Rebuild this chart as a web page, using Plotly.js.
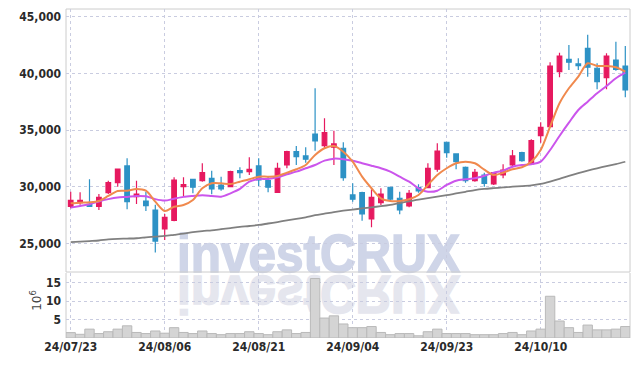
<!DOCTYPE html>
<html>
<head>
<meta charset="utf-8">
<script src="https://cdn.plot.ly/plotly-3.0.1.min.js"></script>
<style>
  html, body { margin: 0; padding: 0; background: #ffffff; }
  #wrap { position: relative; width: 639px; height: 366px; overflow: hidden; }
  #wm { position: absolute; left: 0; top: 0; z-index: 0; }
  #chart { position: absolute; left: 0; top: 0; width: 639px; height: 366px; z-index: 1; }
</style>
</head>
<body>
<div id="wrap">
  <svg id="wm" width="639" height="366" xmlns="http://www.w3.org/2000/svg">
    <text x="177" y="272" font-family="Liberation Sans, Arial, sans-serif" font-weight="bold" font-size="54" textLength="283" lengthAdjust="spacingAndGlyphs" fill="#cfd5e8" stroke="#cfd5e8" stroke-width="1.6">investCRUX</text>
    <g transform="translate(0,548) scale(1,-1)">
      <text x="177" y="272" font-family="Liberation Sans, Arial, sans-serif" font-weight="bold" font-size="54" textLength="283" lengthAdjust="spacingAndGlyphs" fill="#e5e6ee" stroke="#e5e6ee" stroke-width="1.6">investCRUX</text>
    </g>
  </svg>
  <div id="chart"></div>
</div>
<script>
// ---- data ----
const dates = ['24/07/23','24/07/24','24/07/25','24/07/26','24/07/29','24/07/30','24/07/31','24/08/01','24/08/02','24/08/05',
               '24/08/06','24/08/07','24/08/08','24/08/09','24/08/12','24/08/13','24/08/14','24/08/16','24/08/19','24/08/20',
               '24/08/21','24/08/22','24/08/23','24/08/26','24/08/27','24/08/28','24/08/29','24/08/30','24/09/02','24/09/03',
               '24/09/04','24/09/05','24/09/06','24/09/09','24/09/10','24/09/11','24/09/12','24/09/13','24/09/19','24/09/20',
               '24/09/23','24/09/24','24/09/25','24/09/26','24/09/27','24/09/30','24/10/02','24/10/04','24/10/07','24/10/08',
               '24/10/10','24/10/11','24/10/14','24/10/15','24/10/16','24/10/17','24/10/18','24/10/21','24/10/22','24/10/23'];

const openP  = [28250,28600,28450,28250,29470,30350,31830,29120,28730,27940,
                26270,27030,30000,30650,30530,30740,30150,30000,31410,31320,
                31830,30530,29500,31920,33090,32710,34650,33620,33480,33390,
                29270,29470,27150,28590,29950,28980,28300,29910,29910,31540,
                33920,32890,31710,30530,31030,30240,31030,31920,33000,32000,
                34500,35300,40150,41240,40830,42210,40450,39620,41180,40650];
const highP  = [29550,29500,30650,29350,30530,31600,32500,30530,29560,28400,
                27590,30830,30830,30700,32060,31410,30880,31410,31710,32600,
                32500,30880,32120,33180,33590,33470,38680,36040,34940,33920,
                30300,29560,29770,29860,29990,29560,29710,30210,32060,33830,
                33950,32950,31770,31560,31240,31300,31980,33240,33080,34180,
                35680,40980,41830,42500,41330,43415,40890,41770,42800,42420];
const lowP   = [28100,28400,28200,27950,29360,30000,28000,28470,27850,24200,
                25300,26940,29180,29420,30440,29330,29650,29950,30740,31030,
                30060,29500,29480,31620,31920,32120,33180,33330,31920,30530,
                28680,27000,26420,28390,28820,27560,28180,29470,29860,31320,
                32560,31540,30350,30440,30000,30150,30740,31710,32210,31910,
                33880,35240,39660,40300,40300,39710,38600,38600,40240,37890];
const closeP = [28800,28800,28250,29050,30350,31550,28680,29350,28320,25200,
                27290,30590,30180,29950,31240,29800,29800,31320,31240,31530,
                30590,29950,31620,33090,32650,32420,34030,34770,33770,30800,
                28890,27590,29060,29350,28910,27940,29420,29620,31620,33150,
                33000,32210,30530,31270,30300,31240,31470,32710,32300,34060,
                35240,40650,41530,40980,40680,40540,39270,41530,40360,38535];

// moving-average lines
const ma5  = [28535,28588,28620,28738,29179,29620,29647,29797,29647,28676,
              27855,28235,28385,28826,29860,30300,30294,30238,30441,30653,
              30883,30883,30944,31236,31535,31915,32798,33389,33592,33089,
              32207,30883,29859,28976,28738,28738,28888,29267,30150,31033,
              31624,32065,32207,32065,31500,31033,31236,31536,31712,32207,
              33239,35296,37361,38685,39709,40891,40653,40653,40535,40150];
const ma10 = [28150,28300,28450,28700,28900,29050,29100,29180,29150,28900,
              28770,28940,29100,29180,29240,29180,29120,29414,29800,30450,
              30680,30680,30830,31094,31324,31624,31915,32295,32471,32430,
              32295,32065,31854,31624,31324,30883,30441,29859,29559,29647,
              30150,30530,30650,30740,30960,31236,31412,31765,31915,31977,
              32207,33239,34475,35649,36770,37502,38244,38888,39568,40060];
const maLong = [25100,25150,25200,25250,25350,25400,25420,25450,25530,25600,
                25650,25750,25850,25980,26080,26150,26250,26350,26450,26530,
                26620,26750,26880,27020,27150,27300,27480,27620,27760,27880,
                27980,28080,28180,28280,28400,28560,28700,28850,28980,29120,
                29250,29400,29550,29700,29800,29870,29930,30000,30050,30120,
                30250,30450,30680,30950,31200,31420,31620,31820,32000,32200];

// volume in millions of shares
const volume = [1.46,1.0,2.4,1.2,1.7,2.4,3.3,1.5,1.2,1.9,
                1.3,2.8,1.5,1.2,1.9,1.2,0.9,1.2,1.2,1.7,
                1.2,0.9,1.7,2.2,1.2,1.5,16.1,5.4,6.0,3.8,
                2.8,2.8,3.1,1.5,0.9,1.2,1.2,0.6,1.7,2.4,
                1.2,1.2,1.2,0.9,0.9,0.9,1.2,1.5,0.9,1.9,
                2.4,11.3,4.6,2.8,1.5,3.5,2.2,2.2,2.4,3.1];

const tickDates = ['24/07/23','24/08/06','24/08/21','24/09/04','24/09/23','24/10/10'];
const priceTicks = [25000,30000,35000,40000,45000];
const volTicks = [5,10,15];

// ---- styles ----
const RED = '#e6195f', BLUE = '#2d92c5';
const GRID = '#c9cce0';
const tickFont = {family: 'DejaVu Sans Condensed, DejaVu Sans, sans-serif', size: 12, color: '#2a2a2a', weight: 'bold'};

const traces = [
  {
    type: 'candlestick', x: dates, open: openP, high: highP, low: lowP, close: closeP,
    xaxis: 'x', yaxis: 'y',
    increasing: {line: {color: RED, width: 1.2}, fillcolor: RED},
    decreasing: {line: {color: BLUE, width: 1.2}, fillcolor: BLUE},
    whiskerwidth: 0, hoverinfo: 'skip', showlegend: false
  },
  {type: 'scatter', mode: 'lines', x: dates, y: maLong, xaxis: 'x', yaxis: 'y',
   line: {color: '#808080', width: 1.8, shape: 'spline', smoothing: 0.8}, hoverinfo: 'skip', showlegend: false},
  {type: 'scatter', mode: 'lines', x: dates, y: ma10, xaxis: 'x', yaxis: 'y',
   line: {color: '#cb55ec', width: 2, shape: 'spline', smoothing: 0.8}, hoverinfo: 'skip', showlegend: false},
  {type: 'scatter', mode: 'lines', x: dates, y: ma5, xaxis: 'x', yaxis: 'y',
   line: {color: '#f0894d', width: 2, shape: 'spline', smoothing: 0.8}, hoverinfo: 'skip', showlegend: false},
  {type: 'bar', x: dates, y: volume, xaxis: 'x', yaxis: 'y2',
   marker: {color: '#d4d4d4', line: {color: '#b9b9b9', width: 1}}, hoverinfo: 'skip', showlegend: false}
];

const layout = {
  width: 639, height: 366,
  margin: {l: 66, r: 9, t: 9, b: 28, pad: 0},
  paper_bgcolor: 'rgba(0,0,0,0)', plot_bgcolor: 'rgba(0,0,0,0)',
  showlegend: false, bargap: 0,
  xaxis: {
    type: 'category', range: [-0.5, 59.5], anchor: 'y2',
    tickmode: 'array', tickvals: tickDates, ticktext: tickDates,
    showgrid: true, gridcolor: GRID, griddash: 'dot', gridwidth: 1,
    zeroline: false, showline: false, ticks: '',
    tickfont: tickFont, rangeslider: {visible: false}, fixedrange: true
  },
  yaxis: {
    domain: [0.2006, 1], range: [22470, 45680],
    tickmode: 'array', tickvals: priceTicks, tickformat: ',d',
    showgrid: true, gridcolor: GRID, griddash: 'dot', gridwidth: 1,
    zeroline: false, showline: false, ticks: '', ticklabelstandoff: 4,
    tickfont: tickFont, fixedrange: true
  },
  yaxis2: {
    domain: [0, 0.1976], range: [0, 17.6],
    tickmode: 'array', tickvals: volTicks,
    showgrid: true, gridcolor: GRID, griddash: 'dot', gridwidth: 1,
    zeroline: false, showline: false, ticks: '', ticklabelstandoff: 4,
    tickfont: tickFont, fixedrange: true
  },
  shapes: [
    {type: 'rect', xref: 'paper', yref: 'paper', x0: 0, x1: 1, y0: 0.2006, y1: 1,
     line: {color: '#cccccc', width: 1}, fillcolor: 'rgba(0,0,0,0)', layer: 'below'},
    {type: 'line', xref: 'paper', yref: 'paper', x0: 0, x1: 0, y0: 0, y1: 0.1976,
     line: {color: '#cccccc', width: 1}, layer: 'below'},
    {type: 'line', xref: 'paper', yref: 'paper', x0: 1, x1: 1, y0: 0, y1: 0.1976,
     line: {color: '#cccccc', width: 1}, layer: 'below'}
  ],
  annotations: [
    {xref: 'paper', yref: 'paper', x: -0.0535, y: 0.1155, text: '10<sup>6</sup>',
     showarrow: false, textangle: -90, xanchor: 'center', yanchor: 'middle',
     font: {family: 'DejaVu Sans, sans-serif', size: 12, color: '#444444'}}
  ]
};

Plotly.newPlot('chart', traces, layout, {displayModeBar: false, staticPlot: true});
</script>
</body>
</html>
